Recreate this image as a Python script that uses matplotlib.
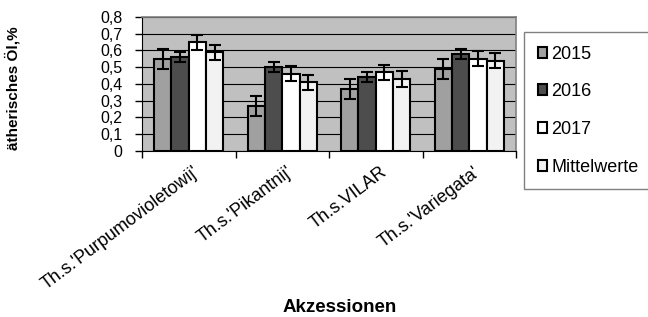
import matplotlib
matplotlib.use("Agg")
import matplotlib.pyplot as plt
import numpy as np

categories = ["Th.s.'Purpumovioletowij'", "Th.s.'Pikantnij'", "Th.s.VILAR", "Th.s.'Variegata'"]
series_names = ["2015", "2016", "2017", "Mittelwerte"]
values = {
    "2015": [0.55, 0.27, 0.37, 0.49],
    "2016": [0.56, 0.50, 0.44, 0.58],
    "2017": [0.65, 0.46, 0.47, 0.55],
    "Mittelwerte": [0.59, 0.41, 0.43, 0.54],
}
errors = {
    "2015": [0.06, 0.06, 0.06, 0.06],
    "2016": [0.03, 0.03, 0.03, 0.03],
    "2017": [0.045, 0.045, 0.045, 0.045],
    "Mittelwerte": [0.045, 0.045, 0.045, 0.045],
}
colors = {"2015": "#A0A0A0", "2016": "#4D4D4D", "2017": "#FFFFFF", "Mittelwerte": "#F2F2F2"}
yticks = [0, 0.1, 0.2, 0.3, 0.4, 0.5, 0.6, 0.7, 0.8]
ytick_labels = ["0", "0,1", "0,2", "0,3", "0,4", "0,5", "0,6", "0,7", "0,8"]

plt.rcParams['font.family'] = ['Liberation Sans', 'DejaVu Sans']

fig = plt.figure(figsize=(6.48, 3.17), dpi=100)
ax = fig.add_axes([142/648, 1 - 151/317, (516-142)/648, (151-17)/317])
ax.set_facecolor("#C0C0C0")

x = np.arange(len(categories))
bw = 0.185
for i, s in enumerate(series_names):
    pos = x + (i - 1.5) * bw
    ax.bar(pos, values[s], bw, color=colors[s], edgecolor="black", linewidth=1.5, zorder=3, label=s)
    ax.errorbar(pos, values[s], yerr=errors[s], fmt="none", ecolor="black", elinewidth=1.5,
                capsize=4, capthick=1.5, zorder=4)

ax.set_xlim(-0.5, len(categories) - 0.5)
ax.set_ylim(0, 0.8)
ax.set_yticks(yticks)
ax.set_yticklabels(ytick_labels, fontsize=11.5)
ax.yaxis.grid(True, color="black", linewidth=0.8, zorder=1)
ax.set_axisbelow(True)
ax.tick_params(axis="y", direction="out", length=5, width=1, pad=9)
ax.set_xticks(np.arange(len(categories) + 1) - 0.5, minor=False)
ax.set_xticklabels([])
ax.tick_params(axis="x", direction="out", length=5, width=1)
ax.set_xticks(x + 0.04, minor=True)
ax.set_xticklabels(categories, minor=True, rotation=37, ha="right", rotation_mode="anchor", fontsize=13)
ax.tick_params(axis="x", which="minor", length=0, pad=9)

for side in ["top", "right"]:
    ax.spines[side].set_color("#808080")
    ax.spines[side].set_linewidth(1.2)
ax.spines["left"].set_color("black")
ax.spines["bottom"].set_color("black")

ax.set_ylabel("ätherisches Öl,%", fontsize=11, fontweight="bold")
ax.yaxis.set_label_coords(-121/374, (151-88)/134)
fig.text(340/648, 1 - 307/317, "Akzessionen", fontsize=13.5, fontweight="bold", ha="center", va="center")

leg = fig.legend(loc="upper left", bbox_to_anchor=(524/648, 1 - 32/317), frameon=True, fancybox=False,
                 edgecolor="#606060", fontsize=13, handlelength=0.55, handleheight=0.55, handletextpad=0.2,
                 labelspacing=1.15, borderpad=0.75, borderaxespad=0)
leg.get_frame().set_linewidth(1.0)
for h in leg.legend_handles:
    h.set_linewidth(1.5)

fig.savefig("out.png", dpi=100)
